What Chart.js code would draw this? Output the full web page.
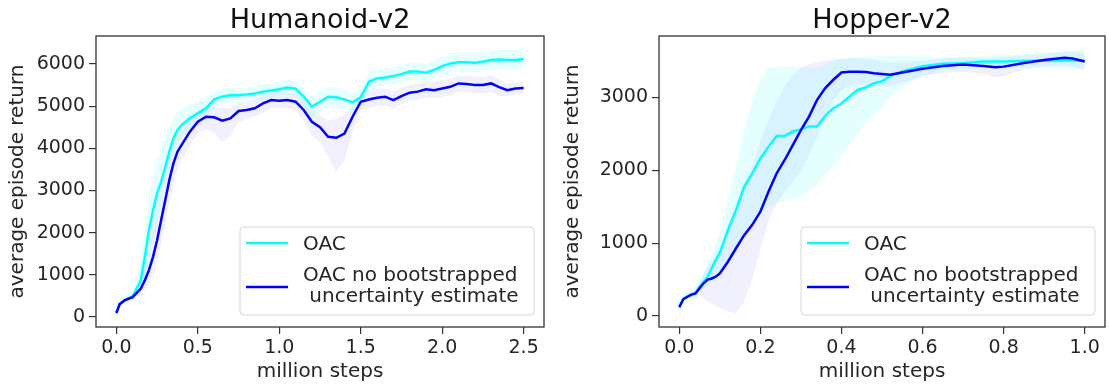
<!DOCTYPE html>
<html>
<head>
<meta charset="utf-8">
<script src="https://cdn.jsdelivr.net/npm/chart.js@4.4.1/dist/chart.umd.min.js"></script>
<style>
    html, body { margin: 0; padding: 0; background: #fff; }
    .panel { position: absolute; top: 0; height: 387px; }
    #leftPanel { left: 0; width: 555px; }
    #rightPanel { left: 555px; width: 554px; }
</style>
</head>
<body>
<div class="panel" id="leftPanel"><canvas id="humanoidChart"></canvas></div>
<div class="panel" id="rightPanel"><canvas id="hopperChart"></canvas></div>
<script>
// --- Humanoid-v2 (million steps / average episode return) ---
const humSteps = [0, 0.02, 0.05, 0.1, 0.15, 0.175, 0.2, 0.225, 0.25, 0.275, 0.3, 0.325, 0.35, 0.375, 0.4, 0.45, 0.5, 0.55, 0.6, 0.65, 0.7, 0.75, 0.8, 0.85, 0.9, 0.95, 1.0, 1.05, 1.1, 1.15, 1.2, 1.25, 1.3, 1.35, 1.4, 1.45, 1.5, 1.55, 1.6, 1.65, 1.7, 1.75, 1.8, 1.85, 1.9, 1.95, 2.0, 2.05, 2.1, 2.15, 2.2, 2.25, 2.3, 2.35, 2.4, 2.45, 2.5];
const humOac = [110, 310, 400, 490, 870, 1425, 2060, 2530, 2930, 3210, 3560, 3920, 4235, 4430, 4550, 4710, 4830, 4950, 5160, 5225, 5265, 5260, 5280, 5300, 5340, 5370, 5400, 5445, 5415, 5225, 4990, 5105, 5225, 5210, 5160, 5090, 5210, 5580, 5660, 5680, 5715, 5760, 5820, 5820, 5795, 5860, 5950, 6015, 6040, 6040, 6030, 6055, 6095, 6110, 6095, 6095, 6120];
const humOacLo = [90, 280, 370, 450, 600, 900, 1300, 1800, 2200, 2700, 3100, 3500, 3850, 4100, 4250, 4450, 4600, 4750, 4950, 5050, 5100, 5100, 5120, 5150, 5180, 5200, 5230, 5270, 5230, 5000, 4750, 4850, 5000, 4950, 4950, 4900, 5000, 5350, 5450, 5480, 5510, 5560, 5620, 5620, 5590, 5650, 5740, 5800, 5820, 5820, 5800, 5830, 5870, 5880, 5860, 5860, 5880];
const humOacHi = [130, 340, 430, 530, 1400, 2100, 2900, 3300, 3700, 4000, 4300, 4550, 4750, 4850, 4950, 5050, 5100, 5200, 5350, 5400, 5450, 5430, 5450, 5480, 5520, 5550, 5570, 5620, 5600, 5420, 5200, 5350, 5450, 5450, 5400, 5300, 5450, 5800, 5870, 5890, 5920, 5960, 6020, 6030, 6000, 6080, 6170, 6230, 6260, 6270, 6260, 6280, 6310, 6330, 6330, 6330, 6350];
const humNoBoot = [90, 300, 390, 470, 670, 870, 1110, 1425, 1820, 2300, 2770, 3245, 3640, 3920, 4075, 4390, 4630, 4750, 4735, 4655, 4710, 4885, 4910, 4950, 5065, 5145, 5130, 5145, 5105, 4910, 4630, 4500, 4275, 4250, 4350, 4750, 5105, 5160, 5200, 5225, 5145, 5240, 5320, 5345, 5400, 5380, 5420, 5460, 5540, 5525, 5500, 5500, 5540, 5450, 5380, 5420, 5430];
const humNoBootLo = [70, 270, 360, 430, 520, 650, 800, 1000, 1300, 1700, 2200, 2700, 3100, 3500, 3700, 4050, 4350, 4450, 4350, 4150, 4300, 4600, 4700, 4750, 4850, 4950, 4950, 4950, 4900, 4650, 4300, 4150, 3800, 3450, 3700, 4400, 4900, 4950, 5000, 5030, 4950, 5050, 5130, 5150, 5200, 5180, 5220, 5260, 5340, 5330, 5300, 5300, 5340, 5250, 5250, 5270, 5300];
const humNoBootHi = [110, 330, 420, 520, 900, 1200, 1600, 2000, 2500, 3000, 3400, 3750, 4100, 4300, 4400, 4650, 4900, 5000, 5000, 4950, 4950, 5100, 5100, 5150, 5250, 5330, 5320, 5330, 5300, 5150, 4900, 4800, 4650, 4700, 4800, 5000, 5300, 5350, 5400, 5420, 5350, 5430, 5500, 5530, 5600, 5580, 5620, 5650, 5730, 5720, 5700, 5700, 5740, 5650, 5520, 5560, 5570];
const humXTicks = [0, 0.5, 1.0, 1.5, 2.0, 2.5];
const humYTicks = [0, 1000, 2000, 3000, 4000, 5000, 6000];

// --- Hopper-v2 ---
const hopSteps = [0, 0.01, 0.02, 0.03, 0.04, 0.05, 0.06, 0.07, 0.08, 0.09, 0.1, 0.12, 0.14, 0.16, 0.18, 0.2, 0.22, 0.24, 0.26, 0.28, 0.3, 0.32, 0.34, 0.36, 0.38, 0.4, 0.42, 0.44, 0.46, 0.48, 0.5, 0.52, 0.55, 0.6, 0.65, 0.7, 0.75, 0.78, 0.8, 0.85, 0.9, 0.95, 0.97, 1.0];
const hopOac = [128, 240, 265, 297, 310, 400, 470, 540, 655, 770, 870, 1180, 1455, 1775, 1955, 2160, 2320, 2470, 2470, 2530, 2560, 2600, 2600, 2745, 2850, 2915, 3010, 3100, 3135, 3190, 3220, 3290, 3355, 3425, 3460, 3470, 3490, 3490, 3490, 3500, 3500, 3505, 3505, 3505];
const hopOacLo = [110, 220, 240, 270, 280, 340, 380, 420, 480, 540, 600, 750, 900, 1100, 1250, 1400, 1500, 1550, 1580, 1600, 1650, 1720, 1800, 1950, 2050, 2200, 2350, 2500, 2650, 2750, 2850, 3000, 3150, 3300, 3370, 3390, 3410, 3410, 3410, 3420, 3420, 3400, 3380, 3380];
const hopOacHi = [150, 260, 290, 330, 360, 480, 580, 700, 850, 1000, 1150, 1600, 2050, 2550, 2950, 3250, 3400, 3420, 3420, 3420, 3420, 3400, 3400, 3450, 3500, 3520, 3540, 3550, 3560, 3560, 3570, 3570, 3570, 3560, 3550, 3550, 3570, 3580, 3580, 3590, 3600, 3620, 3640, 3650];
const hopNoBoot = [120, 230, 265, 295, 310, 380, 450, 500, 515, 540, 585, 745, 930, 1110, 1250, 1430, 1705, 1955, 2140, 2345, 2550, 2735, 2965, 3125, 3240, 3340, 3350, 3350, 3345, 3330, 3320, 3310, 3340, 3390, 3430, 3450, 3430, 3410, 3420, 3470, 3510, 3540, 3530, 3490];
const hopNoBootLo = [100, 210, 240, 260, 230, 300, 250, 200, 170, 140, 110, 70, 40, 200, 500, 900, 1300, 1550, 1700, 1850, 2000, 2200, 2450, 2700, 2950, 3100, 3150, 3170, 3170, 3160, 3150, 3150, 3200, 3280, 3330, 3350, 3320, 3270, 3290, 3380, 3420, 3440, 3420, 3380];
const hopNoBootHi = [140, 250, 290, 330, 380, 480, 580, 680, 750, 800, 900, 1150, 1450, 1750, 2050, 2400, 2700, 2950, 3150, 3300, 3400, 3450, 3480, 3500, 3520, 3530, 3540, 3540, 3530, 3510, 3490, 3480, 3490, 3500, 3530, 3550, 3540, 3540, 3550, 3570, 3600, 3630, 3620, 3600];
const hopXTicks = [0, 0.2, 0.4, 0.6, 0.8, 1.0];
const hopYTicks = [0, 1000, 2000, 3000];

const legendLabels = ['OAC', 'OAC no bootstrapped\n uncertainty estimate'];
const cyan = '#00ffff';
const blue = '#0000ff';

Chart.defaults.font.family = '"DejaVu Sans", sans-serif';
Chart.defaults.color = '#262626';

const toPoints = (xs, ys) => xs.map((x, i) => ({ x: x, y: ys[i] }));

// matplotlib style frame + title centred over the axes
const framePlugin = {
    id: 'frame',
    afterDatasetsDraw(chart, args, opts) {
        const a = chart.chartArea;
        const ctx = chart.ctx;
        ctx.save();
        ctx.strokeStyle = '#333';
        ctx.lineWidth = 1.3;
        ctx.strokeRect(a.left, a.top, a.right - a.left, a.bottom - a.top);

        ctx.fillStyle = '#111';
        ctx.font = '27px "DejaVu Sans"';
        ctx.textAlign = 'center';
        ctx.textBaseline = 'alphabetic';
        ctx.fillText(opts.text, (a.left + a.right) / 2, 28);
        ctx.restore();
    }
};

// legend box in the lower right corner, drawn like matplotlib's
const boxLegendPlugin = {
    id: 'boxLegend',
    afterDraw(chart) {
        const a = chart.chartArea;
        const ctx = chart.ctx;
        const w = 294, h = 88;
        const x0 = a.right - 10 - w;
        const y0 = a.bottom - 12 - h;
        ctx.save();
        ctx.beginPath();
        ctx.roundRect(x0, y0, w, h, 4);
        ctx.fillStyle = 'rgba(255,255,255,0.8)';
        ctx.fill();
        ctx.strokeStyle = '#d6d6d6';
        ctx.lineWidth = 1;
        ctx.stroke();

        const entries = [
            { color: cyan, lineY: y0 + 16, lines: legendLabels[0].split('\n'), textY: y0 + 18 },
            { color: blue, lineY: y0 + 60, lines: legendLabels[1].split('\n'), textY: y0 + 49 }
        ];
        ctx.font = '20px "DejaVu Sans"';
        ctx.textBaseline = 'middle';
        ctx.textAlign = 'left';
        entries.forEach(e => {
            ctx.beginPath();
            ctx.moveTo(x0 + 6, e.lineY);
            ctx.lineTo(x0 + 48, e.lineY);
            ctx.strokeStyle = e.color;
            ctx.lineWidth = 2.5;
            ctx.stroke();
            ctx.fillStyle = '#262626';
            e.lines.forEach((t, k) => ctx.fillText(t, x0 + 63, e.textY + k * 21));
        });
        ctx.restore();
    }
};

function makeChart(canvasId, opts) {
    const band = (lo, hi, color) => [
        { data: toPoints(opts.steps, lo), borderWidth: 0, pointRadius: 0, fill: false, order: 3 },
        { data: toPoints(opts.steps, hi), borderWidth: 0, pointRadius: 0, fill: '-1', backgroundColor: color, order: 3 }
    ];
    const line = (ys, color, order) => ({
        data: toPoints(opts.steps, ys), borderColor: color, borderWidth: 2.5,
        pointRadius: 0, fill: false, tension: 0, order: order
    });
    // fixed tick positions, the same ones matplotlib shows
    const fixTicks = list => scale => { scale.ticks = list.map(v => ({ value: v })); };

    return new Chart(document.getElementById(canvasId), {
        type: 'line',
        data: {
            datasets: [
                ...band(opts.oacLo, opts.oacHi, 'rgba(0,255,255,0.1)'),
                ...band(opts.nbLo, opts.nbHi, 'rgba(0,0,255,0.06)'),
                line(opts.oac, cyan, 1),
                line(opts.nb, blue, 0)
            ]
        },
        options: {
            responsive: true,
            maintainAspectRatio: false,
            animation: false,
            layout: { autoPadding: false, padding: { left: 0, top: 36, bottom: 0, right: opts.padRight } },
            plugins: {
                legend: { display: false },
                tooltip: { enabled: false },
                title: { display: false },
                frame: { text: opts.title }
            },
            scales: {
                x: {
                    type: 'linear', min: opts.xMin, max: opts.xMax,
                    afterFit: s => { s.height = 60; },
                    afterBuildTicks: fixTicks(opts.xTicks),
                    grid: { drawOnChartArea: false, drawTicks: true, tickLength: 7, color: '#333', lineWidth: 1.2 },
                    border: { display: false },
                    ticks: { padding: 3, font: { size: 19 }, maxRotation: 0, autoSkip: false,
                             callback: v => v.toFixed(1) },
                    title: { display: true, text: 'million steps', font: { size: 20 }, padding: { top: 0, bottom: 3 } }
                },
                y: {
                    type: 'linear', min: opts.yMin, max: opts.yMax,
                    afterFit: s => { s.width = opts.axisWidth; },
                    afterBuildTicks: fixTicks(opts.yTicks),
                    grid: { drawOnChartArea: false, drawTicks: true, tickLength: 7, color: '#333', lineWidth: 1.2 },
                    border: { display: false },
                    ticks: { padding: 4, font: { size: 19 }, autoSkip: false, callback: v => String(v) },
                    title: { display: true, text: 'average episode return', font: { size: 20 }, padding: { top: 6, bottom: 0 } }
                }
            }
        },
        plugins: [framePlugin, boxLegendPlugin]
    });
}

makeChart('humanoidChart', {
    title: 'Humanoid-v2', steps: humSteps,
    oac: humOac, oacLo: humOacLo, oacHi: humOacHi,
    nb: humNoBoot, nbLo: humNoBootLo, nbHi: humNoBootHi,
    xMin: -0.125, xMax: 2.625, xTicks: humXTicks,
    yMin: -240, yMax: 6665, yTicks: humYTicks,
    axisWidth: 96, padRight: 11
});

makeChart('hopperChart', {
    title: 'Hopper-v2', steps: hopSteps,
    oac: hopOac, oacLo: hopOacLo, oacHi: hopOacHi,
    nb: hopNoBoot, nbLo: hopNoBootLo, nbHi: hopNoBootHi,
    xMin: -0.05, xMax: 1.05, xTicks: hopXTicks,
    yMin: -150, yMax: 3840, yTicks: hopYTicks,
    axisWidth: 104, padRight: 4
});
</script>
</body>
</html>
